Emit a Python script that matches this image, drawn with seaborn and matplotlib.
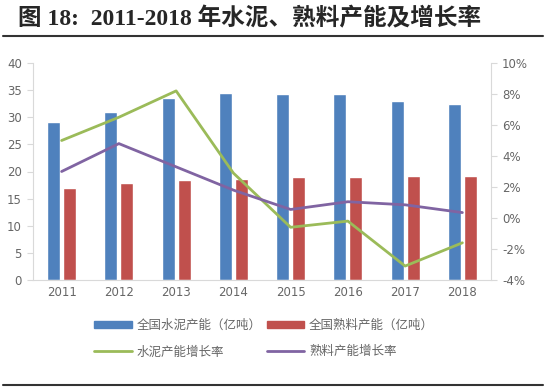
import numpy as np
import pandas as pd
import matplotlib
matplotlib.use('Agg')
import matplotlib.pyplot as plt
import seaborn as sns
from matplotlib.patches import Patch
from matplotlib.lines import Line2D
from matplotlib.ticker import FuncFormatter

# data
years = ['2011', '2012', '2013', '2014', '2015', '2016', '2017', '2018']
cement_cap = [29.2, 31.0, 33.5, 34.4, 34.3, 34.3, 33.0, 32.5]
clinker_cap = [17.0, 17.8, 18.5, 18.7, 18.9, 19.0, 19.1, 19.2]
cement_growth = [5.0, 6.5, 8.2, 2.9, -0.6, -0.2, -3.1, -1.6]
clinker_growth = [3.0, 4.8, 3.3, 1.8, 0.55, 1.05, 0.85, 0.35]

names = ['全国水泥产能（亿吨）', '全国熟料产能（亿吨）', '水泥产能增长率', '熟料产能增长率']
colors = ['#4F81BD', '#C0504D', '#9BBB59', '#8064A2']

sns.set_style('white')
plt.rcParams['font.family'] = ['DejaVu Sans', 'Noto Sans CJK SC']

bars = pd.DataFrame({
    'year': years * 2,
    'value': cement_cap + clinker_cap,
    'series': [names[0]] * len(years) + [names[1]] * len(years),
})

fig = plt.figure(figsize=(5.5, 3.87), dpi=100)
ax = fig.add_axes([33 / 550, 1 - 280 / 387, 458 / 550, 217 / 387])

sns.barplot(data=bars, x='year', y='value', hue='series', palette=colors[:2],
            width=0.555, gap=0.18, saturation=1, legend=False, ax=ax)
ax.set_ylim(0, 40)
ax.set_yticks(range(0, 41, 5))
ax.set_xlim(-0.5, len(years) - 0.5)
ax.set_xlabel('')
ax.set_ylabel('')

ax2 = ax.twinx()
pos = np.arange(len(years))
sns.lineplot(x=pos, y=cement_growth, color=colors[2], linewidth=2.0, ax=ax2)
sns.lineplot(x=pos, y=clinker_growth, color=colors[3], linewidth=2.0, ax=ax2)
ax2.set_ylim(-4, 10)
ax2.set_yticks(range(-4, 11, 2))
ax2.yaxis.set_major_formatter(FuncFormatter(lambda v, p: f'{int(v)}%'))
ax2.set_xlim(-0.5, len(years) - 0.5)

grey = '#666666'
for a in (ax, ax2):
    for s in a.spines.values():
        s.set_visible(False)
    a.tick_params(colors=grey, labelsize=8.5, length=0, pad=4)
ax.spines['left'].set_visible(True)
ax.spines['bottom'].set_visible(True)
ax2.spines['right'].set_visible(True)
for s in (ax.spines['left'], ax.spines['bottom'], ax2.spines['right']):
    s.set_color('#D9D9D9')
    s.set_linewidth(0.8)
ax.set_xticks(np.arange(-0.5, len(years), 1), minor=True)
ax.tick_params(axis='x', which='minor', length=4, color='#D9D9D9')
ax.tick_params(axis='y', length=4, color='#D9D9D9')
ax2.tick_params(axis='y', length=4, color='#D9D9D9')

# legend under the plot
handles = [Patch(color=colors[0]), Line2D([], [], color=colors[2], lw=2),
           Patch(color=colors[1]), Line2D([], [], color=colors[3], lw=2)]
labels = [names[0], names[2], names[1], names[3]]
fig.legend(handles, labels, ncol=2, loc='center', bbox_to_anchor=(0.48, 0.125),
           frameon=False, fontsize=9, labelcolor=grey, handlelength=3.0,
           handleheight=0.55, columnspacing=0.4, handletextpad=0.4,
           labelspacing=1.1)

# report-style heading with rules
fig.text(18 / 550, 1 - 19 / 387, '图 18:  2011-2018 年水泥、熟料产能及增长率',
         fontsize=17, fontweight='bold', va='center', ha='left',
         family=['Liberation Serif', 'Noto Sans CJK SC'])
fig.add_artist(Line2D([3 / 550, 543 / 550], [1 - 36 / 387] * 2, color='#333333', lw=1.5))
fig.add_artist(Line2D([3 / 550, 543 / 550], [1 - 385 / 387] * 2, color='#333333', lw=1.5))

fig.savefig('out.png', dpi=100)
